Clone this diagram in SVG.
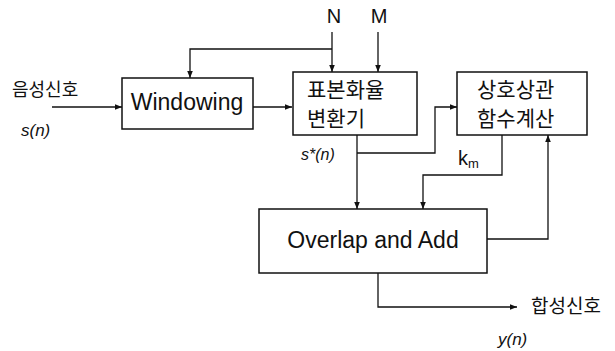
<svg xmlns="http://www.w3.org/2000/svg" width="615" height="351" viewBox="0 0 615 351">
<defs>
<marker id="ah" viewBox="0 0 10 10" refX="10" refY="5" markerWidth="7" markerHeight="7" markerUnits="userSpaceOnUse" orient="auto">
<path d="M0,1 L10,5 L0,9 Z" fill="#111"/>
</marker>
</defs>
<style>
.box{fill:#fff;stroke:#111;stroke-width:1.5}
.ln{fill:none;stroke:#111;stroke-width:1.3}
.t{font-family:"Liberation Sans","Noto Sans CJK KR",sans-serif;fill:#111}
.k{font-family:"Noto Sans CJK KR","Liberation Sans",sans-serif;fill:#111}
.i{font-family:"Liberation Sans",sans-serif;font-style:italic;fill:#111}
</style>
<rect width="615" height="351" fill="#fff"/>
<g id="connectors">
<path class="ln" d="M52,107 H122" marker-end="url(#ah)"/>
<path class="ln" d="M253,107 H292" marker-end="url(#ah)"/>
<path class="ln" d="M332,49 H190 V78" marker-end="url(#ah)"/>
<path class="ln" d="M332,32 V72" marker-end="url(#ah)"/>
<path class="ln" d="M378,32 V72" marker-end="url(#ah)"/>
<path class="ln" d="M357,135 V209" marker-end="url(#ah)"/>
<path class="ln" d="M357,153 H435 V107 H457" marker-end="url(#ah)"/>
<path class="ln" d="M502,135 V175 H423 V209" marker-end="url(#ah)"/>
<path class="ln" d="M487,239 H548 V135" marker-end="url(#ah)"/>
<path class="ln" d="M378,273 V307 H517" marker-end="url(#ah)"/>
</g>
<g id="input">
<text class="k" x="12" y="96" font-size="18">음성신호</text>
<text class="i" x="21" y="136" font-size="17">s(n)</text>
</g>
<g id="windowing">
<rect class="box" x="122" y="78" width="131" height="51"/>
<text class="t" x="187" y="110" font-size="23" text-anchor="middle">Windowing</text>
</g>
<g id="N"><text class="t" x="334" y="23" font-size="20" text-anchor="middle">N</text></g>
<g id="M"><text class="t" x="379" y="23" font-size="20" text-anchor="middle">M</text></g>
<g id="resampler">
<rect class="box" x="293" y="72" width="124" height="63"/>
<text class="k" x="307" y="97" font-size="21">표본화율</text>
<text class="k" x="307" y="126" font-size="21">변환기</text>
<text class="i" x="301" y="160" font-size="16">s*(n)</text>
</g>
<g id="xcorr">
<rect class="box" x="457" y="72" width="130" height="63"/>
<text class="k" x="477" y="97" font-size="21">상호상관</text>
<text class="k" x="477" y="126" font-size="21">함수계산</text>
<text class="t" x="458" y="165" font-size="20">k<tspan font-size="13" dy="3">m</tspan></text>
</g>
<g id="ola">
<rect class="box" x="259" y="209" width="228" height="64"/>
<text class="t" x="373" y="248" font-size="23" text-anchor="middle">Overlap and Add</text>
</g>
<g id="output">
<text class="k" x="531" y="313" font-size="19">합성신호</text>
<text class="i" x="498" y="345" font-size="17">y(n)</text>
</g>
</svg>
